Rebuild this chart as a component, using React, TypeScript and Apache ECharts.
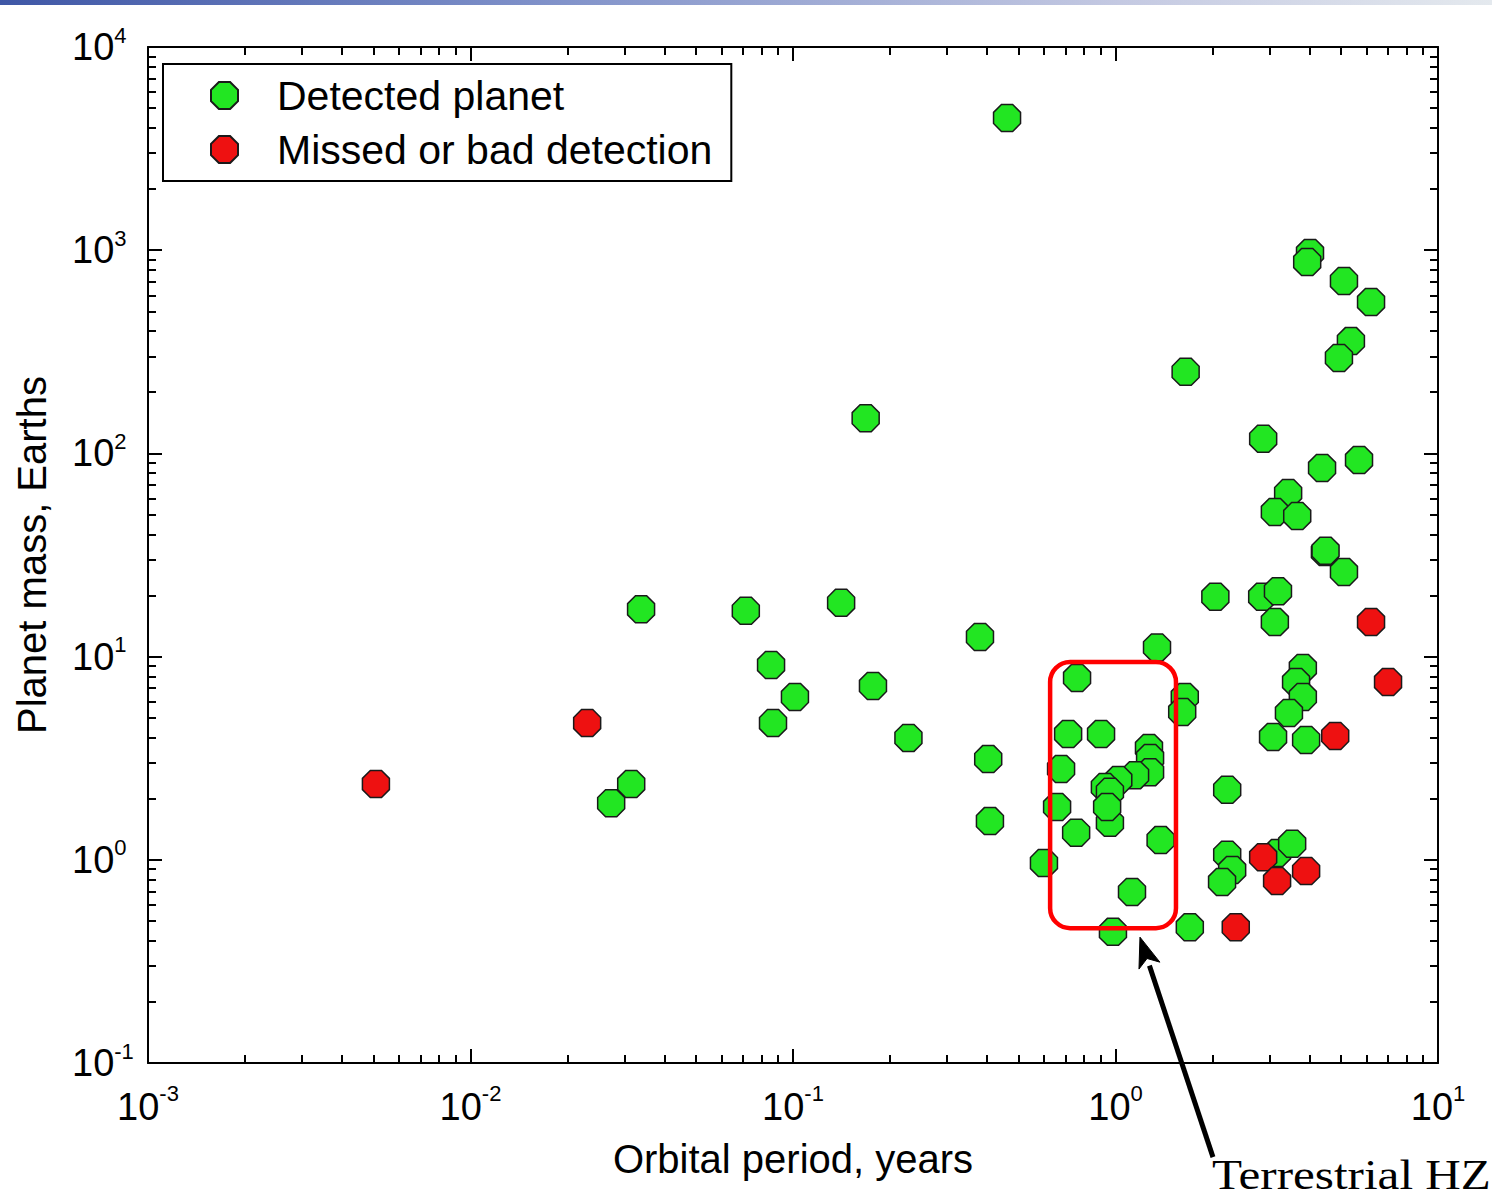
import React, { useEffect, useRef } from "react";
import * as echarts from "echarts";

// ---- data (orbital period in years, planet mass in Earth masses) ----
const detectedPeriod = [
  0.461, 4.01, 3.93, 5.11, 6.2, 5.37, 4.93, 1.65, 0.168, 2.87,
  5.69, 4.37, 3.43, 3.12, 3.66, 4.46, 4.48, 5.11, 2.04, 2.85,
  3.19, 3.12, 3.81, 3.63, 3.81, 3.45, 3.08, 3.9, 2.22, 2.22,
  2.3, 2.14, 3.17, 3.53, 1.7, 0.982, 1.125, 1.38, 0.755, 0.6,
  0.961, 1.345, 0.76, 1.64, 1.61, 0.713, 0.902, 1.27, 1.28, 1.28,
  1.15, 0.678, 1.02, 0.927, 0.961, 0.942, 0.659, 0.403, 0.0338, 0.0273,
  0.0315, 0.0714, 0.141, 0.0855, 0.1014, 0.0867, 0.177, 0.228, 0.38, 0.408,
];
const detectedMass = [
  4475, 969, 875, 705, 556, 357, 295, 252, 149, 118,
  92.8, 84.8, 63.8, 51.5, 49.2, 32.7, 33.2, 26.1, 19.7, 19.7,
  21.0, 14.8, 8.79, 7.5, 6.33, 5.28, 4.02, 3.89, 2.21, 1.06,
  0.891, 0.778, 1.08, 1.2, 0.466, 0.442, 0.695, 1.25, 1.36, 0.964,
  1.52, 11.1, 7.85, 6.33, 5.34, 4.16, 4.16, 3.55, 3.17, 2.7,
  2.61, 2.8, 2.47, 2.28, 2.16, 1.82, 1.82, 3.13, 17.1, 1.9,
  2.36, 16.8, 18.4, 9.09, 6.33, 4.71, 7.17, 3.98, 12.5, 1.55,
];
const missedPeriod = [0.00509, 0.023, 6.2, 7.0, 4.8, 2.87, 3.17, 3.9, 2.36];
const missedMass = [2.36, 4.71, 14.8, 7.5, 4.07, 1.03, 0.787, 0.88, 0.466];

const xDecades = [-3, -2, -1, 0, 1];
const yDecades = [-1, 0, 1, 2, 3, 4];
const legendNames = ["Detected planet", "Missed or bad detection"];
const xAxisTitle = "Orbital period, years";
const yAxisTitle = "Planet mass, Earths";
const annotationText = "Terrestrial HZ";
const hzBoxPeriod = [0.627, 1.54];
const hzBoxMass = [0.461, 9.4];

const FONT = '"Liberation Sans", Arial, Helvetica, sans-serif';
const OCTAGON =
  "path://M29.3,0 L70.7,0 L100,29.3 L100,70.7 L70.7,100 L29.3,100 L0,70.7 L0,29.3 Z";

const minorTicks = (from: number, to: number) => {
  const out: number[] = [];
  for (let n = from; n < to; n++) {
    for (let k = 2; k <= 9; k++) out.push(n + Math.log10(k));
  }
  return out;
};

const richLabel = {
  b: { fontSize: 38, fontFamily: FONT, color: "#000", lineHeight: 38, padding: [8, 0, 0, 0] },
  s: { fontSize: 22, fontFamily: FONT, color: "#000", lineHeight: 22, verticalAlign: "top" },
};
const richLabelX = {
  b: { fontSize: 38, fontFamily: FONT, color: "#000", lineHeight: 38, padding: [12, 0, 0, 0] },
  s: { fontSize: 22, fontFamily: FONT, color: "#000", lineHeight: 22, verticalAlign: "top" },
};
const powFormatter = (v: number) => `{b|10}{s|${Math.round(v)}}`;

function frameAxis(
  position: string,
  isX: boolean,
  ticks: number[],
  len: number,
  showLine: boolean,
  extra: any = {}
) {
  return {
    type: "value",
    gridIndex: 0,
    min: isX ? xDecades[0] : yDecades[0],
    max: isX ? xDecades[xDecades.length - 1] : yDecades[yDecades.length - 1],
    position,
    offset: 0,
    axisLine: { show: showLine, onZero: false, lineStyle: { color: "#000", width: 2 } },
    axisTick: {
      show: true,
      inside: true,
      length: len,
      customValues: ticks,
      lineStyle: { color: "#000", width: 2 },
    },
    axisLabel: { show: false },
    splitLine: { show: false },
    ...extra,
  };
}

export default function App() {
  const ref = useRef<HTMLDivElement>(null);

  useEffect(() => {
    if (!ref.current) return;
    const chart = echarts.init(ref.current, undefined, { renderer: "svg" });

    const xMinor = minorTicks(xDecades[0], xDecades[xDecades.length - 1]);
    const yMinor = minorTicks(yDecades[0], yDecades[yDecades.length - 1]);

    chart.setOption({
      animation: false,
      backgroundColor: "#ffffff",
      grid: {
        left: 148,
        right: 54,
        top: 47,
        bottom: 135,
        containLabel: false,
        outerBoundsMode: "none",
      },
      legend: {
        show: true,
        data: legendNames,
        orient: "vertical",
        left: 163,
        top: 64,
        padding: [11, 19, 11, 47],
        itemGap: 13,
        itemWidth: 27,
        itemHeight: 27,
        borderColor: "#000",
        borderWidth: 2,
        borderRadius: 0,
        backgroundColor: "#fff",
        textStyle: { fontSize: 41, fontFamily: FONT, color: "#000", padding: [0, 0, 0, 34] },
      },
      xAxis: [
        {
          type: "log",
          logBase: 10,
          min: Math.pow(10, xDecades[0]),
          max: Math.pow(10, xDecades[xDecades.length - 1]),
          show: false,
          gridIndex: 0,
        },
        frameAxis("bottom", true, xDecades, 14, true, {
          axisLabel: {
            show: true,
            customValues: xDecades,
            margin: 19,
            formatter: powFormatter,
            rich: richLabelX,
          },
          name: xAxisTitle,
          nameLocation: "middle",
          nameGap: 76,
          nameTextStyle: { fontSize: 40, fontFamily: FONT, color: "#000" },
        }),
        frameAxis("bottom", true, xMinor, 8, false),
        frameAxis("top", true, xDecades, 14, true),
        frameAxis("top", true, xMinor, 8, false),
      ],
      yAxis: [
        {
          type: "log",
          logBase: 10,
          min: Math.pow(10, yDecades[0]),
          max: Math.pow(10, yDecades[yDecades.length - 1]),
          show: false,
          gridIndex: 0,
        },
        frameAxis("left", false, yDecades, 14, true, {
          axisLabel: {
            show: true,
            customValues: yDecades,
            margin: 76,
            align: "left",
            padding: [0, 0, 8, 0],
            formatter: powFormatter,
            rich: richLabel,
          },
          name: yAxisTitle,
          nameLocation: "middle",
          nameGap: 96,
          nameTextStyle: { fontSize: 40, fontFamily: FONT, color: "#000" },
        }),
        frameAxis("left", false, yMinor, 8, false),
        frameAxis("right", false, yDecades, 14, true),
        frameAxis("right", false, yMinor, 8, false),
      ],
      series: [
        {
          type: "scatter",
          name: legendNames[0],
          xAxisIndex: 0,
          yAxisIndex: 0,
          symbol: OCTAGON,
          symbolSize: 27,
          itemStyle: { color: "#22e622", borderColor: "#1a1a1a", borderWidth: 1.5, opacity: 1 },
          data: detectedPeriod.map((p, i) => [p, detectedMass[i]]),
          z: 3,
        },
        {
          type: "scatter",
          name: legendNames[1],
          xAxisIndex: 0,
          yAxisIndex: 0,
          symbol: OCTAGON,
          symbolSize: 27,
          itemStyle: { color: "#ee1111", borderColor: "#1a1a1a", borderWidth: 1.5, opacity: 1 },
          data: missedPeriod.map((p, i) => [p, missedMass[i]]),
          z: 4,
        },
      ],
    });

    const a = chart.convertToPixel({ seriesIndex: 0 }, [hzBoxPeriod[0], hzBoxMass[1]]) as number[];
    const b = chart.convertToPixel({ seriesIndex: 0 }, [hzBoxPeriod[1], hzBoxMass[0]]) as number[];
    const boxX = a[0];
    const boxY = a[1];
    const boxW = b[0] - a[0];
    const boxH = b[1] - a[1];

    const tipX = b[0] - 36;
    const tipY = b[1] + 9;
    const tailX = tipX + 73;
    const tailY = tipY + 220;
    const len = Math.hypot(tailX - tipX, tailY - tipY);
    const ux = (tipX - tailX) / len;
    const uy = (tipY - tailY) / len;
    const nx = -uy;
    const ny = ux;
    const headLen = 30;
    const headHalf = 11;
    const baseX = tipX - ux * headLen;
    const baseY = tipY - uy * headLen;
    const notchX = tipX - ux * headLen * 0.75;
    const notchY = tipY - uy * headLen * 0.75;

    chart.setOption({
      graphic: [
        {
          type: "rect",
          shape: { x: 0, y: 0, width: 1492, height: 5 },
          style: {
            fill: new echarts.graphic.LinearGradient(0, 0, 1, 0, [
              { offset: 0, color: "#3f57a6" },
              { offset: 0.35, color: "#7d8fc8" },
              { offset: 0.75, color: "#c4c9e2" },
              { offset: 1, color: "#e4e9ee" },
            ]),
          },
          silent: true,
          z: 100,
        },
        {
          type: "rect",
          shape: { x: boxX, y: boxY, width: boxW, height: boxH, r: 20 },
          style: { fill: "none", stroke: "#ff0000", lineWidth: 4.5 },
          silent: true,
          z: 100,
        },
        {
          type: "line",
          shape: { x1: tailX, y1: tailY, x2: baseX, y2: baseY },
          style: { stroke: "#000", lineWidth: 5 },
          silent: true,
          z: 100,
        },
        {
          type: "polygon",
          shape: {
            points: [
              [tipX, tipY],
              [baseX + nx * headHalf, baseY + ny * headHalf],
              [notchX, notchY],
              [baseX - nx * headHalf, baseY - ny * headHalf],
            ],
          },
          style: { fill: "#000", stroke: "#000", lineWidth: 1 },
          silent: true,
          z: 100,
        },
        {
          type: "text",
          x: tailX - 1,
          y: 1196,
          scaleX: 1.17,
          scaleY: 1,
          style: {
            text: annotationText,
            font: '42px "Liberation Serif", "Times New Roman", serif',
            fill: "#000",
            textAlign: "left",
            textVerticalAlign: "bottom",
          },
          silent: true,
          z: 100,
        },
      ],
    });

    return () => chart.dispose();
  }, []);

  return (
    <div
      ref={ref}
      style={{ position: "absolute", left: 0, top: 0, width: 1492, height: 1198 }}
    />
  );
}
